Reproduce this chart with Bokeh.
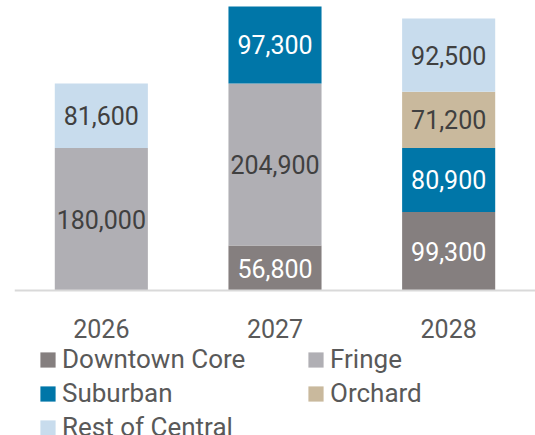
from bokeh.plotting import figure
from bokeh.models import FactorRange, Range1d, Legend, LegendItem, ColumnDataSource, Span
from bokeh.core.properties import value
from bokeh.embed import file_html
from bokeh.resources import INLINE

years = ["2026", "2027", "2028"]
series_names = ["Downtown Core", "Fringe", "Suburban", "Orchard", "Rest of Central"]
downtown = [0, 56800, 99300]
fringe = [180000, 204900, 0]
suburban = [0, 97300, 80900]
orchard = [0, 0, 71200]
rest = [81600, 0, 92500]

colors = ["#857f7f", "#b0afb4", "#0076a8", "#c9b99d", "#c8dced"]
text_colors = ["#ffffff", "#404040", "#ffffff", "#404040", "#404040"]
keys = ["downtown", "fringe", "suburban", "orchard", "rest"]
values_list = [downtown, fringe, suburban, orchard, rest]

data = {"years": years}
for k, v in zip(keys, values_list):
    data[k] = v
source = ColumnDataSource(data)

FONT = "Roboto"

# frame extends below the baseline to hold the year labels and the legend
p = figure(x_range=FactorRange(*years, range_padding=0), y_range=Range1d(-183300, 366600),
           width=535, height=435, output_backend="svg", toolbar_location=None,
           x_axis_location=None, y_axis_location=None,
           min_border_left=14, min_border_right=0, min_border_top=0, min_border_bottom=0)
p.x_range.range_padding = 0
p.grid.visible = False
p.outline_line_color = None

renderers = p.vbar_stack(keys, x="years", width=0.536, color=colors, source=source,
                         line_color=None)

# baseline
p.add_layout(Span(location=0, dimension="width", line_color="#d9d9d9", line_width=2))

# value labels
lx, ly, lt, lc = [], [], [], []
for i, yr in enumerate(years):
    base = 0
    for j, v in enumerate(values_list):
        val = v[i]
        if val > 0:
            lx.append(yr)
            ly.append(base + val / 2)
            lt.append(f"{val:,}")
            lc.append(text_colors[j])
        base += val
lsrc = ColumnDataSource(dict(x=lx, y=ly, t=lt, c=lc))
p.text(x="x", y="y", text="t", text_color="c", source=lsrc, text_align="center",
       text_baseline="middle", text_font=value(FONT), text_font_size="25px")

# category labels under the baseline
ysrc = ColumnDataSource(dict(x=years, y=[0] * len(years), t=years))
p.text(x="x", y="y", text="t", source=ysrc, text_align="center", text_baseline="middle",
       y_offset=38, text_color="#595959", text_font=value(FONT), text_font_size="25px")

order = [0, 2, 4, 1, 3]
items = [LegendItem(label=series_names[i], renderers=[renderers[i]]) for i in order]
legend = Legend(items=items, orientation="vertical", nrows=3, location=(24, -7),
                border_line_color=None, background_fill_alpha=0,
                label_text_font=FONT, label_text_font_size="26px", label_text_color="#595959",
                glyph_width=19, glyph_height=19, label_standoff=5,
                label_width=240, label_height=30, spacing=4, padding=0, margin=0)
p.add_layout(legend, "center")

open("out.html", "w").write(file_html(p, INLINE))
